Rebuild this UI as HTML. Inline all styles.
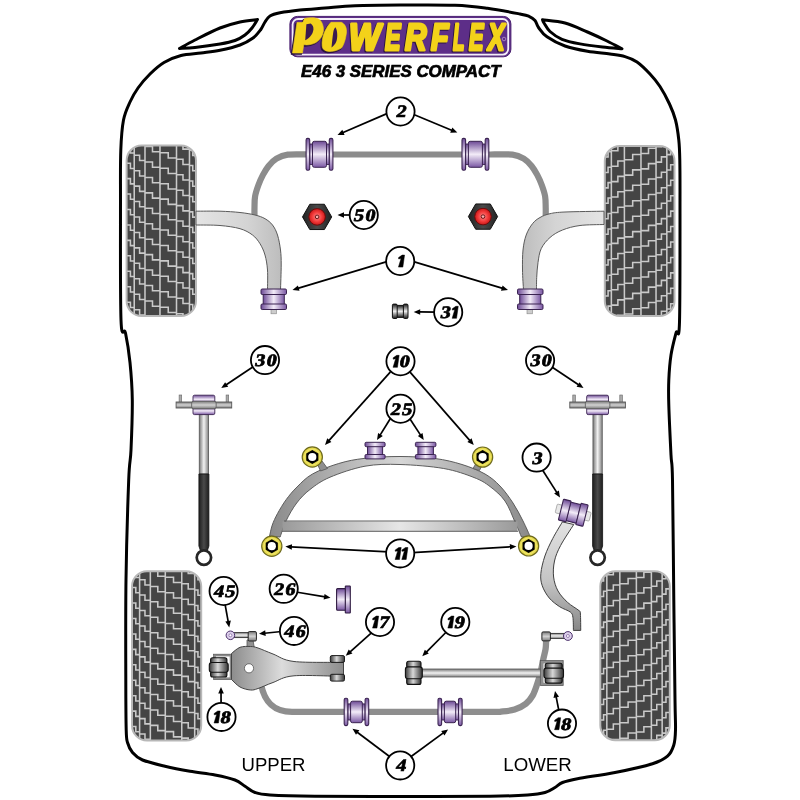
<!DOCTYPE html>
<html><head><meta charset="utf-8"><style>html,body{margin:0;padding:0;background:#fff;width:800px;height:800px;overflow:hidden}svg{display:block;will-change:transform}</style></head><body><svg width="800" height="800" viewBox="0 0 800 800">
<defs>
 <linearGradient id="pv" x1="0" y1="0" x2="0" y2="1">
  <stop offset="0" stop-color="#6d4a96"/><stop offset="0.5" stop-color="#f3ecf8"/><stop offset="1" stop-color="#7a57a3"/>
 </linearGradient>
 <linearGradient id="ph" x1="0" y1="0" x2="1" y2="0">
  <stop offset="0" stop-color="#6d4a96"/><stop offset="0.5" stop-color="#f3ecf8"/><stop offset="1" stop-color="#7a57a3"/>
 </linearGradient>
 <linearGradient id="pf" x1="0" y1="0" x2="1" y2="0">
  <stop offset="0" stop-color="#6a4890"/><stop offset="0.5" stop-color="#d6c6e6"/><stop offset="1" stop-color="#6a4890"/>
 </linearGradient>
 <linearGradient id="gv" x1="0" y1="0" x2="0" y2="1">
  <stop offset="0" stop-color="#777"/><stop offset="0.5" stop-color="#f2f2f2"/><stop offset="1" stop-color="#808080"/>
 </linearGradient>
 <linearGradient id="gh" x1="0" y1="0" x2="1" y2="0">
  <stop offset="0" stop-color="#777"/><stop offset="0.5" stop-color="#f2f2f2"/><stop offset="1" stop-color="#808080"/>
 </linearGradient>
 <linearGradient id="gv2" x1="0" y1="0" x2="0" y2="1">
  <stop offset="0" stop-color="#7a7a7a"/><stop offset="0.5" stop-color="#d2d2d2"/><stop offset="1" stop-color="#7a7a7a"/>
 </linearGradient>
 <linearGradient id="dk" x1="0" y1="0" x2="1" y2="0">
  <stop offset="0" stop-color="#1e1e1e"/><stop offset="0.5" stop-color="#4a4a4a"/><stop offset="1" stop-color="#1e1e1e"/>
 </linearGradient>
 <linearGradient id="gh" x1="0" y1="0" x2="1" y2="0">
  <stop offset="0" stop-color="#777"/><stop offset="0.5" stop-color="#f2f2f2"/><stop offset="1" stop-color="#808080"/>
 </linearGradient>
 <linearGradient id="mh" x1="0" y1="0" x2="1" y2="0">
  <stop offset="0" stop-color="#3a3a3a"/><stop offset="0.45" stop-color="#d8d8d8"/><stop offset="1" stop-color="#333"/>
 </linearGradient>
 <linearGradient id="mv" x1="0" y1="0" x2="0" y2="1">
  <stop offset="0" stop-color="#3a3a3a"/><stop offset="0.45" stop-color="#d8d8d8"/><stop offset="1" stop-color="#333"/>
 </linearGradient>
 <linearGradient id="mv2" x1="0" y1="0" x2="0" y2="1">
  <stop offset="0" stop-color="#1a1a1a"/><stop offset="0.5" stop-color="#f0f0f0"/><stop offset="1" stop-color="#1a1a1a"/>
 </linearGradient>
 <linearGradient id="armL" x1="0" y1="0" x2="1" y2="0">
  <stop offset="0" stop-color="#e4e4e4"/><stop offset="0.6" stop-color="#d4d4d4"/><stop offset="1" stop-color="#bdbdbd"/>
 </linearGradient>
 <linearGradient id="armR" x1="1" y1="0" x2="0" y2="0">
  <stop offset="0" stop-color="#e4e4e4"/><stop offset="0.6" stop-color="#d4d4d4"/><stop offset="1" stop-color="#bdbdbd"/>
 </linearGradient>
 <linearGradient id="arch" x1="0" y1="0" x2="1" y2="0">
  <stop offset="0" stop-color="#8a8a8a"/><stop offset="0.5" stop-color="#d6d6d6"/><stop offset="1" stop-color="#8a8a8a"/>
 </linearGradient>
 <linearGradient id="bar" x1="0" y1="0" x2="1" y2="0">
  <stop offset="0" stop-color="#9a9a9a"/><stop offset="0.5" stop-color="#e6e6e6"/><stop offset="1" stop-color="#9a9a9a"/>
 </linearGradient>
 <linearGradient id="arm17" x1="0" y1="0" x2="1" y2="0">
  <stop offset="0" stop-color="#8c8c8c"/><stop offset="0.45" stop-color="#dcdcdc"/><stop offset="1" stop-color="#8c8c8c"/>
 </linearGradient>
 <linearGradient id="trail" x1="0" y1="0" x2="0" y2="1">
  <stop offset="0" stop-color="#e2e2e2"/><stop offset="0.55" stop-color="#c4c4c4"/><stop offset="1" stop-color="#888"/>
 </linearGradient>
 <radialGradient id="red" cx="0.5" cy="0.5" r="0.5">
  <stop offset="0" stop-color="#ff8a8a"/><stop offset="0.6" stop-color="#f23a3a"/><stop offset="1" stop-color="#c81818"/>
 </radialGradient>
 <linearGradient id="hexg" x1="0" y1="0" x2="1" y2="0">
  <stop offset="0" stop-color="#222"/><stop offset="0.5" stop-color="#4a4a4a"/><stop offset="1" stop-color="#222"/>
 </linearGradient>
</defs>
<rect width="800" height="800" fill="#fff"/><path d="M400.00,5.00 C416.67,4.92 440.42,4.65 455.00,5.20 C469.58,5.75 476.67,6.83 487.50,8.30 C498.33,9.77 513.08,12.67 520.00,14.00 C526.92,15.33 526.50,15.22 529.00,16.30 C531.50,17.38 533.42,18.63 535.00,20.50 C536.58,22.37 536.50,24.78 538.50,27.50 C540.50,30.22 542.58,33.72 547.00,36.80 C551.42,39.88 558.25,43.60 565.00,46.00 C571.75,48.40 580.00,49.87 587.50,51.20 C595.00,52.53 603.75,53.10 610.00,54.00 C616.25,54.90 620.50,55.27 625.00,56.60 C629.50,57.93 632.83,59.10 637.00,62.00 C641.17,64.90 646.17,69.92 650.00,74.00 C653.83,78.08 656.75,81.50 660.00,86.50 C663.25,91.50 666.92,98.42 669.50,104.00 C672.08,109.58 673.95,114.00 675.50,120.00 C677.05,126.00 678.08,133.33 678.80,140.00 C679.52,146.67 679.60,150.00 679.80,160.00 C680.00,170.00 680.05,173.00 680.00,200.00 C679.95,227.00 680.17,299.83 679.50,322.00 C678.83,344.17 677.42,327.50 676.00,333.00 C674.58,338.50 672.20,347.17 671.00,355.00 C669.80,362.83 669.17,371.67 668.80,380.00 C668.43,388.33 668.43,392.50 668.80,405.00 C669.17,417.50 670.38,442.50 671.00,455.00 C671.62,467.50 672.03,455.83 672.50,480.00 C672.97,504.17 673.38,563.33 673.80,600.00 C674.22,636.67 674.72,678.33 675.00,700.00 C675.28,721.67 675.70,722.50 675.50,730.00 C675.30,737.50 675.13,740.63 673.80,745.00 C672.47,749.37 671.05,753.08 667.50,756.20 C663.95,759.32 661.25,760.98 652.50,763.70 C643.75,766.42 627.50,770.00 615.00,772.50 C602.50,775.00 586.25,777.03 577.50,778.70 C568.75,780.37 566.25,781.03 562.50,782.50 C558.75,783.97 557.92,785.83 555.00,787.50 C552.08,789.17 549.58,791.25 545.00,792.50 C540.42,793.75 536.67,794.37 527.50,795.00 C518.33,795.63 511.25,796.05 490.00,796.30 C468.75,796.55 429.17,796.50 400.00,796.50 C370.83,796.50 336.67,796.55 315.00,796.30 C293.33,796.05 280.00,795.63 270.00,795.00 C260.00,794.37 259.17,793.95 255.00,792.50 C250.83,791.05 248.33,788.38 245.00,786.30 C241.67,784.22 240.00,781.88 235.00,780.00 C230.00,778.12 222.50,776.47 215.00,775.00 C207.50,773.53 198.33,772.67 190.00,771.20 C181.67,769.73 172.92,768.07 165.00,766.20 C157.08,764.33 147.92,762.28 142.50,760.00 C137.08,757.72 135.00,755.42 132.50,752.50 C130.00,749.58 128.55,746.25 127.50,742.50 C126.45,738.75 126.48,740.42 126.20,730.00 C125.92,719.58 125.83,705.00 125.80,680.00 C125.77,655.00 125.52,613.33 126.00,580.00 C126.48,546.67 127.87,501.67 128.70,480.00 C129.53,458.33 130.40,463.33 131.00,450.00 C131.60,436.67 132.47,414.58 132.30,400.00 C132.13,385.42 131.13,373.67 130.00,362.50 C128.87,351.33 127.00,340.08 125.50,333.00 C124.00,325.92 121.83,342.17 121.00,320.00 C120.17,297.83 120.53,228.33 120.50,200.00 C120.47,171.67 120.30,163.33 120.80,150.00 C121.30,136.67 121.97,128.00 123.50,120.00 C125.03,112.00 127.58,107.33 130.00,102.00 C132.42,96.67 134.67,92.67 138.00,88.00 C141.33,83.33 145.67,78.25 150.00,74.00 C154.33,69.75 158.83,65.58 164.00,62.50 C169.17,59.42 174.83,57.08 181.00,55.50 C187.17,53.92 194.50,53.87 201.00,53.00 C207.50,52.13 213.50,51.63 220.00,50.30 C226.50,48.97 234.50,47.05 240.00,45.00 C245.50,42.95 249.58,40.50 253.00,38.00 C256.42,35.50 258.50,32.67 260.50,30.00 C262.50,27.33 263.42,24.33 265.00,22.00 C266.58,19.67 267.50,17.53 270.00,16.00 C272.50,14.47 275.00,13.80 280.00,12.80 C285.00,11.80 292.50,10.80 300.00,10.00 C307.50,9.20 315.83,8.72 325.00,8.00 C334.17,7.28 342.50,6.20 355.00,5.70 C367.50,5.20 383.33,5.08 400.00,5.00Z" fill="none" stroke="#000" stroke-width="3"/>
<path d="M179.40,48.50 C182.00,47.08 188.23,43.42 195.00,40.00 C201.77,36.58 212.50,31.00 220.00,28.00 C227.50,25.00 233.75,23.42 240.00,22.00 C246.25,20.58 254.58,19.92 257.50,19.50 C256.58,20.92 254.08,25.42 252.00,28.00 C249.92,30.58 247.83,32.92 245.00,35.00 C242.17,37.08 239.17,39.00 235.00,40.50 C230.83,42.00 226.67,42.83 220.00,44.00 C213.33,45.17 201.77,46.75 195.00,47.50 C188.23,48.25 182.00,48.33 179.40,48.50 Z" fill="none" stroke="#000" stroke-width="3" stroke-linejoin="round"/>
<path d="M542.50,19.70 C546.25,20.25 557.50,20.95 565.00,23.00 C572.50,25.05 580.50,29.00 587.50,32.00 C594.50,35.00 601.25,38.20 607.00,41.00 C612.75,43.80 619.50,47.50 622.00,48.80 C618.75,48.52 609.50,47.92 602.50,47.10 C595.50,46.28 586.75,45.20 580.00,43.90 C573.25,42.60 567.00,41.37 562.00,39.30 C557.00,37.23 553.00,34.22 550.00,31.50 C547.00,28.78 545.25,24.97 544.00,23.00 C542.75,21.03 542.75,20.25 542.50,19.70 Z" fill="none" stroke="#000" stroke-width="3" stroke-linejoin="round"/>
<clipPath id="tc126_145"><rect x="126.6" y="145.6" width="69.4" height="170.4" rx="15" ry="15"/></clipPath><rect x="126.6" y="145.6" width="69.4" height="170.4" rx="15" ry="15" fill="#454545"/><g clip-path="url(#tc126_145)"><path d="M126.60,116.87 H130.42 V122.12 H134.23 M126.60,132.31 H130.42 V137.56 H134.23 M126.60,147.75 H130.42 V153.00 H134.23 M126.60,163.19 H130.42 V168.44 H134.23 M126.60,178.63 H130.42 V183.88 H134.23 M126.60,194.07 H130.42 V199.32 H134.23 M126.60,209.51 H130.42 V214.76 H134.23 M126.60,224.95 H130.42 V230.20 H134.23 M126.60,240.39 H130.42 V245.64 H134.23 M126.60,255.83 H130.42 V261.08 H134.23 M126.60,271.27 H130.42 V276.52 H134.23 M126.60,286.71 H130.42 V291.96 H134.23 M126.60,302.15 H130.42 V307.40 H134.23 M126.60,317.59 H130.42 V322.84 H134.23 M134.23,124.37 H139.61 V129.62 H144.99 M134.23,139.81 H139.61 V145.06 H144.99 M134.23,155.25 H139.61 V160.50 H144.99 M134.23,170.69 H139.61 V175.94 H144.99 M134.23,186.13 H139.61 V191.38 H144.99 M134.23,201.57 H139.61 V206.82 H144.99 M134.23,217.01 H139.61 V222.26 H144.99 M134.23,232.45 H139.61 V237.70 H144.99 M134.23,247.89 H139.61 V253.14 H144.99 M134.23,263.33 H139.61 V268.58 H144.99 M134.23,278.77 H139.61 V284.02 H144.99 M134.23,294.21 H139.61 V299.46 H144.99 M134.23,309.65 H139.61 V314.90 H144.99 M134.23,325.09 H139.61 V330.34 H144.99 M144.99,115.68 H152.49 V120.93 H159.98 M144.99,131.12 H152.49 V136.37 H159.98 M144.99,146.56 H152.49 V151.81 H159.98 M144.99,162.00 H152.49 V167.25 H159.98 M144.99,177.44 H152.49 V182.69 H159.98 M144.99,192.88 H152.49 V198.13 H159.98 M144.99,208.32 H152.49 V213.57 H159.98 M144.99,223.76 H152.49 V229.01 H159.98 M144.99,239.20 H152.49 V244.45 H159.98 M144.99,254.64 H152.49 V259.89 H159.98 M144.99,270.08 H152.49 V275.33 H159.98 M144.99,285.52 H152.49 V290.77 H159.98 M144.99,300.96 H152.49 V306.21 H159.98 M144.99,316.40 H152.49 V321.65 H159.98 M159.98,121.93 H168.24 V127.18 H176.50 M159.98,137.37 H168.24 V142.62 H176.50 M159.98,152.81 H168.24 V158.06 H176.50 M159.98,168.25 H168.24 V173.50 H176.50 M159.98,183.69 H168.24 V188.94 H176.50 M159.98,199.13 H168.24 V204.38 H176.50 M159.98,214.57 H168.24 V219.82 H176.50 M159.98,230.01 H168.24 V235.26 H176.50 M159.98,245.45 H168.24 V250.70 H176.50 M159.98,260.89 H168.24 V266.14 H176.50 M159.98,276.33 H168.24 V281.58 H176.50 M159.98,291.77 H168.24 V297.02 H176.50 M159.98,307.21 H168.24 V312.46 H176.50 M159.98,322.65 H168.24 V327.90 H176.50 M176.50,128.43 H182.99 V133.68 H189.48 M176.50,143.87 H182.99 V149.12 H189.48 M176.50,159.31 H182.99 V164.56 H189.48 M176.50,174.75 H182.99 V180.00 H189.48 M176.50,190.19 H182.99 V195.44 H189.48 M176.50,205.63 H182.99 V210.88 H189.48 M176.50,221.07 H182.99 V226.32 H189.48 M176.50,236.51 H182.99 V241.76 H189.48 M176.50,251.95 H182.99 V257.20 H189.48 M176.50,267.39 H182.99 V272.64 H189.48 M176.50,282.83 H182.99 V288.08 H189.48 M176.50,298.27 H182.99 V303.52 H189.48 M176.50,313.71 H182.99 V318.96 H189.48 M176.50,329.15 H182.99 V334.40 H189.48 M189.48,119.24 H192.74 V124.49 H196.00 M189.48,134.68 H192.74 V139.93 H196.00 M189.48,150.12 H192.74 V155.37 H196.00 M189.48,165.56 H192.74 V170.81 H196.00 M189.48,181.00 H192.74 V186.25 H196.00 M189.48,196.44 H192.74 V201.69 H196.00 M189.48,211.88 H192.74 V217.13 H196.00 M189.48,227.32 H192.74 V232.57 H196.00 M189.48,242.76 H192.74 V248.01 H196.00 M189.48,258.20 H192.74 V263.45 H196.00 M189.48,273.64 H192.74 V278.89 H196.00 M189.48,289.08 H192.74 V294.33 H196.00 M189.48,304.52 H192.74 V309.77 H196.00 M189.48,319.96 H192.74 V325.21 H196.00 M134.23,145.60 V316.00 M144.99,145.60 V316.00 M159.98,145.60 V316.00 M176.50,145.60 V316.00 M189.48,145.60 V316.00" fill="none" stroke="#cacaca" stroke-width="1.55"/></g><rect x="126.6" y="145.6" width="69.4" height="170.4" rx="15" ry="15" fill="none" stroke="#b8b8b8" stroke-width="2"/>
<clipPath id="tc604_146"><rect x="604.8" y="146.0" width="69.7" height="170.0" rx="15" ry="15"/></clipPath><rect x="604.8" y="146.0" width="69.7" height="170.0" rx="15" ry="15" fill="#454545"/><g clip-path="url(#tc604_146)"><path transform="translate(1279.30,0) scale(-1,1)" d="M604.80,118.47 H608.63 V123.72 H612.47 M604.80,133.91 H608.63 V139.16 H612.47 M604.80,149.35 H608.63 V154.60 H612.47 M604.80,164.79 H608.63 V170.04 H612.47 M604.80,180.23 H608.63 V185.48 H612.47 M604.80,195.67 H608.63 V200.92 H612.47 M604.80,211.11 H608.63 V216.36 H612.47 M604.80,226.55 H608.63 V231.80 H612.47 M604.80,241.99 H608.63 V247.24 H612.47 M604.80,257.43 H608.63 V262.68 H612.47 M604.80,272.87 H608.63 V278.12 H612.47 M604.80,288.31 H608.63 V293.56 H612.47 M604.80,303.75 H608.63 V309.00 H612.47 M604.80,319.19 H608.63 V324.44 H612.47 M612.47,125.97 H617.87 V131.22 H623.27 M612.47,141.41 H617.87 V146.66 H623.27 M612.47,156.85 H617.87 V162.10 H623.27 M612.47,172.29 H617.87 V177.54 H623.27 M612.47,187.73 H617.87 V192.98 H623.27 M612.47,203.17 H617.87 V208.42 H623.27 M612.47,218.61 H617.87 V223.86 H623.27 M612.47,234.05 H617.87 V239.30 H623.27 M612.47,249.49 H617.87 V254.74 H623.27 M612.47,264.93 H617.87 V270.18 H623.27 M612.47,280.37 H617.87 V285.62 H623.27 M612.47,295.81 H617.87 V301.06 H623.27 M612.47,311.25 H617.87 V316.50 H623.27 M612.47,326.69 H617.87 V331.94 H623.27 M623.27,117.28 H630.80 V122.53 H638.33 M623.27,132.72 H630.80 V137.97 H638.33 M623.27,148.16 H630.80 V153.41 H638.33 M623.27,163.60 H630.80 V168.85 H638.33 M623.27,179.04 H630.80 V184.29 H638.33 M623.27,194.48 H630.80 V199.73 H638.33 M623.27,209.92 H630.80 V215.17 H638.33 M623.27,225.36 H630.80 V230.61 H638.33 M623.27,240.80 H630.80 V246.05 H638.33 M623.27,256.24 H630.80 V261.49 H638.33 M623.27,271.68 H630.80 V276.93 H638.33 M623.27,287.12 H630.80 V292.37 H638.33 M623.27,302.56 H630.80 V307.81 H638.33 M623.27,318.00 H630.80 V323.25 H638.33 M638.33,123.53 H646.62 V128.78 H654.91 M638.33,138.97 H646.62 V144.22 H654.91 M638.33,154.41 H646.62 V159.66 H654.91 M638.33,169.85 H646.62 V175.10 H654.91 M638.33,185.29 H646.62 V190.54 H654.91 M638.33,200.73 H646.62 V205.98 H654.91 M638.33,216.17 H646.62 V221.42 H654.91 M638.33,231.61 H646.62 V236.86 H654.91 M638.33,247.05 H646.62 V252.30 H654.91 M638.33,262.49 H646.62 V267.74 H654.91 M638.33,277.93 H646.62 V283.18 H654.91 M638.33,293.37 H646.62 V298.62 H654.91 M638.33,308.81 H646.62 V314.06 H654.91 M638.33,324.25 H646.62 V329.50 H654.91 M654.91,130.03 H661.43 V135.28 H667.95 M654.91,145.47 H661.43 V150.72 H667.95 M654.91,160.91 H661.43 V166.16 H667.95 M654.91,176.35 H661.43 V181.60 H667.95 M654.91,191.79 H661.43 V197.04 H667.95 M654.91,207.23 H661.43 V212.48 H667.95 M654.91,222.67 H661.43 V227.92 H667.95 M654.91,238.11 H661.43 V243.36 H667.95 M654.91,253.55 H661.43 V258.80 H667.95 M654.91,268.99 H661.43 V274.24 H667.95 M654.91,284.43 H661.43 V289.68 H667.95 M654.91,299.87 H661.43 V305.12 H667.95 M654.91,315.31 H661.43 V320.56 H667.95 M654.91,330.75 H661.43 V336.00 H667.95 M667.95,120.84 H671.22 V126.09 H674.50 M667.95,136.28 H671.22 V141.53 H674.50 M667.95,151.72 H671.22 V156.97 H674.50 M667.95,167.16 H671.22 V172.41 H674.50 M667.95,182.60 H671.22 V187.85 H674.50 M667.95,198.04 H671.22 V203.29 H674.50 M667.95,213.48 H671.22 V218.73 H674.50 M667.95,228.92 H671.22 V234.17 H674.50 M667.95,244.36 H671.22 V249.61 H674.50 M667.95,259.80 H671.22 V265.05 H674.50 M667.95,275.24 H671.22 V280.49 H674.50 M667.95,290.68 H671.22 V295.93 H674.50 M667.95,306.12 H671.22 V311.37 H674.50 M667.95,321.56 H671.22 V326.81 H674.50 M612.47,146.00 V316.00 M623.27,146.00 V316.00 M638.33,146.00 V316.00 M654.91,146.00 V316.00 M667.95,146.00 V316.00" fill="none" stroke="#cacaca" stroke-width="1.55"/></g><rect x="604.8" y="146.0" width="69.7" height="170.0" rx="15" ry="15" fill="none" stroke="#b8b8b8" stroke-width="2"/>
<clipPath id="tc132_571"><rect x="132.0" y="571.3" width="69.2" height="169.2" rx="15" ry="15"/></clipPath><rect x="132.0" y="571.3" width="69.2" height="169.2" rx="15" ry="15" fill="#454545"/><g clip-path="url(#tc132_571)"><path d="M132.00,541.27 H135.81 V546.52 H139.61 M132.00,556.71 H135.81 V561.96 H139.61 M132.00,572.15 H135.81 V577.40 H139.61 M132.00,587.59 H135.81 V592.84 H139.61 M132.00,603.03 H135.81 V608.28 H139.61 M132.00,618.47 H135.81 V623.72 H139.61 M132.00,633.91 H135.81 V639.16 H139.61 M132.00,649.35 H135.81 V654.60 H139.61 M132.00,664.79 H135.81 V670.04 H139.61 M132.00,680.23 H135.81 V685.48 H139.61 M132.00,695.67 H135.81 V700.92 H139.61 M132.00,711.11 H135.81 V716.36 H139.61 M132.00,726.55 H135.81 V731.80 H139.61 M132.00,741.99 H135.81 V747.24 H139.61 M139.61,548.77 H144.97 V554.02 H150.34 M139.61,564.21 H144.97 V569.46 H150.34 M139.61,579.65 H144.97 V584.90 H150.34 M139.61,595.09 H144.97 V600.34 H150.34 M139.61,610.53 H144.97 V615.78 H150.34 M139.61,625.97 H144.97 V631.22 H150.34 M139.61,641.41 H144.97 V646.66 H150.34 M139.61,656.85 H144.97 V662.10 H150.34 M139.61,672.29 H144.97 V677.54 H150.34 M139.61,687.73 H144.97 V692.98 H150.34 M139.61,703.17 H144.97 V708.42 H150.34 M139.61,718.61 H144.97 V723.86 H150.34 M139.61,734.05 H144.97 V739.30 H150.34 M139.61,749.49 H144.97 V754.74 H150.34 M150.34,555.52 H157.81 V560.77 H165.29 M150.34,570.96 H157.81 V576.21 H165.29 M150.34,586.40 H157.81 V591.65 H165.29 M150.34,601.84 H157.81 V607.09 H165.29 M150.34,617.28 H157.81 V622.53 H165.29 M150.34,632.72 H157.81 V637.97 H165.29 M150.34,648.16 H157.81 V653.41 H165.29 M150.34,663.60 H157.81 V668.85 H165.29 M150.34,679.04 H157.81 V684.29 H165.29 M150.34,694.48 H157.81 V699.73 H165.29 M150.34,709.92 H157.81 V715.17 H165.29 M150.34,725.36 H157.81 V730.61 H165.29 M150.34,740.80 H157.81 V746.05 H165.29 M165.29,546.33 H173.52 V551.58 H181.75 M165.29,561.77 H173.52 V567.02 H181.75 M165.29,577.21 H173.52 V582.46 H181.75 M165.29,592.65 H173.52 V597.90 H181.75 M165.29,608.09 H173.52 V613.34 H181.75 M165.29,623.53 H173.52 V628.78 H181.75 M165.29,638.97 H173.52 V644.22 H181.75 M165.29,654.41 H173.52 V659.66 H181.75 M165.29,669.85 H173.52 V675.10 H181.75 M165.29,685.29 H173.52 V690.54 H181.75 M165.29,700.73 H173.52 V705.98 H181.75 M165.29,716.17 H173.52 V721.42 H181.75 M165.29,731.61 H173.52 V736.86 H181.75 M165.29,747.05 H173.52 V752.30 H181.75 M181.75,552.83 H188.22 V558.08 H194.70 M181.75,568.27 H188.22 V573.52 H194.70 M181.75,583.71 H188.22 V588.96 H194.70 M181.75,599.15 H188.22 V604.40 H194.70 M181.75,614.59 H188.22 V619.84 H194.70 M181.75,630.03 H188.22 V635.28 H194.70 M181.75,645.47 H188.22 V650.72 H194.70 M181.75,660.91 H188.22 V666.16 H194.70 M181.75,676.35 H188.22 V681.60 H194.70 M181.75,691.79 H188.22 V697.04 H194.70 M181.75,707.23 H188.22 V712.48 H194.70 M181.75,722.67 H188.22 V727.92 H194.70 M181.75,738.11 H188.22 V743.36 H194.70 M181.75,753.55 H188.22 V758.80 H194.70 M194.70,543.64 H197.95 V548.89 H201.20 M194.70,559.08 H197.95 V564.33 H201.20 M194.70,574.52 H197.95 V579.77 H201.20 M194.70,589.96 H197.95 V595.21 H201.20 M194.70,605.40 H197.95 V610.65 H201.20 M194.70,620.84 H197.95 V626.09 H201.20 M194.70,636.28 H197.95 V641.53 H201.20 M194.70,651.72 H197.95 V656.97 H201.20 M194.70,667.16 H197.95 V672.41 H201.20 M194.70,682.60 H197.95 V687.85 H201.20 M194.70,698.04 H197.95 V703.29 H201.20 M194.70,713.48 H197.95 V718.73 H201.20 M194.70,728.92 H197.95 V734.17 H201.20 M194.70,744.36 H197.95 V749.61 H201.20 M139.61,571.30 V740.50 M150.34,571.30 V740.50 M165.29,571.30 V740.50 M181.75,571.30 V740.50 M194.70,571.30 V740.50" fill="none" stroke="#cacaca" stroke-width="1.55"/></g><rect x="132.0" y="571.3" width="69.2" height="169.2" rx="15" ry="15" fill="none" stroke="#b8b8b8" stroke-width="2"/>
<clipPath id="tc600_571"><rect x="600.3" y="571.3" width="69.5" height="168.9" rx="15" ry="15"/></clipPath><rect x="600.3" y="571.3" width="69.5" height="168.9" rx="15" ry="15" fill="#454545"/><g clip-path="url(#tc600_571)"><path transform="translate(1270.10,0) scale(-1,1)" d="M600.30,542.57 H604.12 V547.82 H607.94 M600.30,558.01 H604.12 V563.26 H607.94 M600.30,573.45 H604.12 V578.70 H607.94 M600.30,588.89 H604.12 V594.14 H607.94 M600.30,604.33 H604.12 V609.58 H607.94 M600.30,619.77 H604.12 V625.02 H607.94 M600.30,635.21 H604.12 V640.46 H607.94 M600.30,650.65 H604.12 V655.90 H607.94 M600.30,666.09 H604.12 V671.34 H607.94 M600.30,681.53 H604.12 V686.78 H607.94 M600.30,696.97 H604.12 V702.22 H607.94 M600.30,712.41 H604.12 V717.66 H607.94 M600.30,727.85 H604.12 V733.10 H607.94 M600.30,743.29 H604.12 V748.54 H607.94 M607.94,550.07 H613.33 V555.32 H618.72 M607.94,565.51 H613.33 V570.76 H618.72 M607.94,580.95 H613.33 V586.20 H618.72 M607.94,596.39 H613.33 V601.64 H618.72 M607.94,611.83 H613.33 V617.08 H618.72 M607.94,627.27 H613.33 V632.52 H618.72 M607.94,642.71 H613.33 V647.96 H618.72 M607.94,658.15 H613.33 V663.40 H618.72 M607.94,673.59 H613.33 V678.84 H618.72 M607.94,689.03 H613.33 V694.28 H618.72 M607.94,704.47 H613.33 V709.72 H618.72 M607.94,719.91 H613.33 V725.16 H618.72 M607.94,735.35 H613.33 V740.60 H618.72 M607.94,750.79 H613.33 V756.04 H618.72 M618.72,541.38 H626.22 V546.63 H633.73 M618.72,556.82 H626.22 V562.07 H633.73 M618.72,572.26 H626.22 V577.51 H633.73 M618.72,587.70 H626.22 V592.95 H633.73 M618.72,603.14 H626.22 V608.39 H633.73 M618.72,618.58 H626.22 V623.83 H633.73 M618.72,634.02 H626.22 V639.27 H633.73 M618.72,649.46 H626.22 V654.71 H633.73 M618.72,664.90 H626.22 V670.15 H633.73 M618.72,680.34 H626.22 V685.59 H633.73 M618.72,695.78 H626.22 V701.03 H633.73 M618.72,711.22 H626.22 V716.47 H633.73 M618.72,726.66 H626.22 V731.91 H633.73 M618.72,742.10 H626.22 V747.35 H633.73 M633.73,547.63 H642.00 V552.88 H650.27 M633.73,563.07 H642.00 V568.32 H650.27 M633.73,578.51 H642.00 V583.76 H650.27 M633.73,593.95 H642.00 V599.20 H650.27 M633.73,609.39 H642.00 V614.64 H650.27 M633.73,624.83 H642.00 V630.08 H650.27 M633.73,640.27 H642.00 V645.52 H650.27 M633.73,655.71 H642.00 V660.96 H650.27 M633.73,671.15 H642.00 V676.40 H650.27 M633.73,686.59 H642.00 V691.84 H650.27 M633.73,702.03 H642.00 V707.28 H650.27 M633.73,717.47 H642.00 V722.72 H650.27 M633.73,732.91 H642.00 V738.16 H650.27 M633.73,748.35 H642.00 V753.60 H650.27 M650.27,554.13 H656.77 V559.38 H663.27 M650.27,569.57 H656.77 V574.82 H663.27 M650.27,585.01 H656.77 V590.26 H663.27 M650.27,600.45 H656.77 V605.70 H663.27 M650.27,615.89 H656.77 V621.14 H663.27 M650.27,631.33 H656.77 V636.58 H663.27 M650.27,646.77 H656.77 V652.02 H663.27 M650.27,662.21 H656.77 V667.46 H663.27 M650.27,677.65 H656.77 V682.90 H663.27 M650.27,693.09 H656.77 V698.34 H663.27 M650.27,708.53 H656.77 V713.78 H663.27 M650.27,723.97 H656.77 V729.22 H663.27 M650.27,739.41 H656.77 V744.66 H663.27 M650.27,754.85 H656.77 V760.10 H663.27 M663.27,544.94 H666.53 V550.19 H669.80 M663.27,560.38 H666.53 V565.63 H669.80 M663.27,575.82 H666.53 V581.07 H669.80 M663.27,591.26 H666.53 V596.51 H669.80 M663.27,606.70 H666.53 V611.95 H669.80 M663.27,622.14 H666.53 V627.39 H669.80 M663.27,637.58 H666.53 V642.83 H669.80 M663.27,653.02 H666.53 V658.27 H669.80 M663.27,668.46 H666.53 V673.71 H669.80 M663.27,683.90 H666.53 V689.15 H669.80 M663.27,699.34 H666.53 V704.59 H669.80 M663.27,714.78 H666.53 V720.03 H669.80 M663.27,730.22 H666.53 V735.47 H669.80 M663.27,745.66 H666.53 V750.91 H669.80 M607.94,571.30 V740.20 M618.72,571.30 V740.20 M633.73,571.30 V740.20 M650.27,571.30 V740.20 M663.27,571.30 V740.20" fill="none" stroke="#cacaca" stroke-width="1.55"/></g><rect x="600.3" y="571.3" width="69.5" height="168.9" rx="15" ry="15" fill="none" stroke="#b8b8b8" stroke-width="2"/>
<path d="M254.50,216.00 C254.50,214.58 254.40,210.79 254.50,207.50 C254.60,204.21 254.44,200.00 255.10,196.25 C255.76,192.50 257.14,188.56 258.45,185.00 C259.76,181.44 261.26,178.08 262.95,174.90 C264.64,171.72 266.35,168.62 268.60,165.90 C270.85,163.18 273.27,160.48 276.45,158.60 C279.63,156.72 282.08,155.28 287.70,154.60 C293.33,153.92 306.45,154.52 310.20,154.50 L490.00,154.50 C493.75,154.52 506.88,153.92 512.50,154.60 C518.12,155.28 520.57,156.72 523.75,158.60 C526.93,160.48 529.35,163.18 531.60,165.90 C533.85,168.62 535.56,171.72 537.25,174.90 C538.94,178.08 540.44,181.44 541.75,185.00 C543.06,188.56 544.44,192.50 545.10,196.25 C545.76,200.00 545.60,204.21 545.70,207.50 C545.80,210.79 545.70,214.58 545.70,216.00" fill="none" stroke="#8c8c8c" stroke-width="6.2"/>
<path d="M196.00,211.20 C200.00,211.20 212.67,210.98 220.00,211.20 C227.33,211.42 234.17,211.87 240.00,212.50 C245.83,213.13 250.83,213.97 255.00,215.00 C259.17,216.03 262.08,217.03 265.00,218.70 C267.92,220.37 270.42,222.28 272.50,225.00 C274.58,227.72 276.17,230.83 277.50,235.00 C278.83,239.17 279.88,245.00 280.50,250.00 C281.12,255.00 281.20,258.33 281.20,265.00 C281.20,271.67 280.62,285.83 280.50,290.00 L267.50,290.00 C267.50,286.67 267.92,275.83 267.50,270.00 C267.08,264.17 266.25,259.38 265.00,255.00 C263.75,250.62 262.08,247.03 260.00,243.70 C257.92,240.37 255.83,237.50 252.50,235.00 C249.17,232.50 245.42,230.28 240.00,228.70 C234.58,227.12 227.33,226.12 220.00,225.50 C212.67,224.88 200.00,225.08 196.00,225.00 Z" fill="url(#armL)" stroke="#5a5a5a" stroke-width="1"/>
<path d="M604.00,211.20 C597.50,211.33 574.00,211.58 565.00,212.00 C556.00,212.42 554.17,212.78 550.00,213.70 C545.83,214.62 542.92,215.83 540.00,217.50 C537.08,219.17 534.80,220.78 532.50,223.70 C530.20,226.62 527.78,230.62 526.20,235.00 C524.62,239.38 523.62,244.17 523.00,250.00 C522.38,255.83 522.42,263.33 522.50,270.00 C522.58,276.67 523.33,286.67 523.50,290.00 L536.50,290.00 C536.53,287.92 536.45,282.08 536.70,277.50 C536.95,272.92 537.25,267.30 538.00,262.50 C538.75,257.70 539.20,252.87 541.20,248.70 C543.20,244.53 546.45,240.62 550.00,237.50 C553.55,234.38 557.50,232.00 562.50,230.00 C567.50,228.00 573.08,226.42 580.00,225.50 C586.92,224.58 600.00,224.67 604.00,224.50 Z" fill="url(#armR)" stroke="#5a5a5a" stroke-width="1"/>
<rect x="271" y="309" width="5.5" height="4.8" fill="#ccc" stroke="#888" stroke-width="0.6"/>
<rect x="527" y="309" width="5.5" height="4.8" fill="#ccc" stroke="#888" stroke-width="0.6"/>
<rect x="263.20" y="294.00" width="21.10" height="10.50" fill="url(#ph)" stroke="#3a2350" stroke-width="1"/><rect x="261.00" y="289.00" width="25.50" height="5.50" rx="1.2" fill="url(#ph)" stroke="#3a2350" stroke-width="1"/><rect x="261.00" y="304.00" width="25.50" height="5.50" rx="1.2" fill="url(#ph)" stroke="#3a2350" stroke-width="1"/>
<rect x="519.70" y="294.00" width="21.10" height="10.50" fill="url(#ph)" stroke="#3a2350" stroke-width="1"/><rect x="517.50" y="289.00" width="25.50" height="5.50" rx="1.2" fill="url(#ph)" stroke="#3a2350" stroke-width="1"/><rect x="517.50" y="304.00" width="25.50" height="5.50" rx="1.2" fill="url(#ph)" stroke="#3a2350" stroke-width="1"/>
<rect x="309.70" y="144.00" width="19.60" height="20.60" fill="url(#pv)" stroke="#3a2350" stroke-width="0.9"/><rect x="312.50" y="141.30" width="14.00" height="26.00" rx="1.8" fill="url(#pv)" stroke="#3a2350" stroke-width="1"/><rect x="306.10" y="138.40" width="3.60" height="31.80" rx="1.5" fill="url(#pv)" stroke="#3a2350" stroke-width="1.1"/><rect x="329.30" y="138.40" width="3.60" height="31.80" rx="1.5" fill="url(#pv)" stroke="#3a2350" stroke-width="1.1"/>
<rect x="465.60" y="144.00" width="19.60" height="20.60" fill="url(#pv)" stroke="#3a2350" stroke-width="0.9"/><rect x="468.40" y="141.30" width="14.00" height="26.00" rx="1.8" fill="url(#pv)" stroke="#3a2350" stroke-width="1"/><rect x="462.00" y="138.40" width="3.60" height="31.80" rx="1.5" fill="url(#pv)" stroke="#3a2350" stroke-width="1.1"/><rect x="485.20" y="138.40" width="3.60" height="31.80" rx="1.5" fill="url(#pv)" stroke="#3a2350" stroke-width="1.1"/>
<polygon points="331.70,216.90 324.40,229.54 309.80,229.54 302.50,216.90 309.80,204.26 324.40,204.26" fill="url(#hexg)" stroke="#111" stroke-width="1"/><circle cx="317.10" cy="216.90" r="8.3" fill="url(#red)" stroke="#6a0a0a" stroke-width="1"/><circle cx="317.10" cy="216.90" r="1.8" fill="#f7b0b0" stroke="#5a0a0a" stroke-width="0.9"/>
<polygon points="497.60,216.60 490.30,229.24 475.70,229.24 468.40,216.60 475.70,203.96 490.30,203.96" fill="url(#hexg)" stroke="#111" stroke-width="1"/><circle cx="483.00" cy="216.60" r="8.3" fill="url(#red)" stroke="#6a0a0a" stroke-width="1"/><circle cx="483.00" cy="216.60" r="1.8" fill="#f7b0b0" stroke="#5a0a0a" stroke-width="0.9"/>
<rect x="396" y="305.4" width="8.5" height="12" fill="url(#mv2)" stroke="#111" stroke-width="1"/>
<rect x="392.4" y="304.1" width="4.8" height="14.4" rx="1.2" fill="url(#mv2)" stroke="#111" stroke-width="1"/>
<rect x="403.4" y="304.1" width="4.6" height="14.4" rx="1.2" fill="url(#mv2)" stroke="#111" stroke-width="1"/>
<rect x="199.25" y="414" width="9.3" height="60" fill="url(#gh)" stroke="#555" stroke-width="0.8"/><path d="M198.90,474 H208.90 V546 L206.90,552 H200.90 L198.90,546 Z" fill="url(#dk)" stroke="#111" stroke-width="0.8"/><circle cx="203.90" cy="557.6" r="7.2" fill="#fff" stroke="#262626" stroke-width="2.7"/><rect x="179.10" y="395" width="2.6" height="8" fill="#aaa" stroke="#666" stroke-width="0.6"/><rect x="226.10" y="395" width="2.6" height="8" fill="#aaa" stroke="#666" stroke-width="0.6"/><rect x="193.00" y="395.2" width="21.8" height="8.3" rx="1.5" fill="url(#pv)" stroke="#3a2350" stroke-width="0.9"/><rect x="193.00" y="407" width="21.8" height="7.6" rx="1.5" fill="url(#pv)" stroke="#3a2350" stroke-width="0.9"/><rect x="176.10" y="402" width="55.6" height="6" fill="url(#gv2)" stroke="#555" stroke-width="0.9"/><rect x="191.65" y="401.2" width="24.5" height="7.6" rx="2" fill="url(#gv2)" stroke="#555" stroke-width="0.8"/>
<rect x="592.95" y="414" width="9.3" height="60" fill="url(#gh)" stroke="#555" stroke-width="0.8"/><path d="M592.60,474 H602.60 V546 L600.60,552 H594.60 L592.60,546 Z" fill="url(#dk)" stroke="#111" stroke-width="0.8"/><circle cx="597.60" cy="557.6" r="7.2" fill="#fff" stroke="#262626" stroke-width="2.7"/><rect x="572.80" y="395" width="2.6" height="8" fill="#aaa" stroke="#666" stroke-width="0.6"/><rect x="619.80" y="395" width="2.6" height="8" fill="#aaa" stroke="#666" stroke-width="0.6"/><rect x="586.70" y="395.2" width="21.8" height="8.3" rx="1.5" fill="url(#pv)" stroke="#3a2350" stroke-width="0.9"/><rect x="586.70" y="407" width="21.8" height="7.6" rx="1.5" fill="url(#pv)" stroke="#3a2350" stroke-width="0.9"/><rect x="569.80" y="402" width="55.6" height="6" fill="url(#gv2)" stroke="#555" stroke-width="0.9"/><rect x="585.35" y="401.2" width="24.5" height="7.6" rx="2" fill="url(#gv2)" stroke="#555" stroke-width="0.8"/>
<path d="M269.60,536.00 C270.05,534.17 270.98,528.73 272.30,525.00 C273.62,521.27 275.18,517.83 277.50,513.60 C279.82,509.37 282.95,504.03 286.20,499.60 C289.45,495.17 292.62,491.27 297.00,487.00 C301.38,482.73 305.54,477.92 312.50,474.00 C319.46,470.08 330.00,466.12 338.75,463.50 C347.50,460.88 354.79,459.47 365.00,458.30 C375.21,457.13 388.33,456.47 400.00,456.50 C411.67,456.53 424.67,457.17 435.00,458.50 C445.33,459.83 453.67,461.92 462.00,464.50 C470.33,467.08 478.67,470.42 485.00,474.00 C491.33,477.58 495.33,481.17 500.00,486.00 C504.67,490.83 509.17,497.17 513.00,503.00 C516.83,508.83 520.10,515.33 523.00,521.00 C525.90,526.67 529.17,534.33 530.40,537.00 L521.50,537.00 C520.42,534.50 517.75,528.00 515.00,522.00 C512.25,516.00 509.17,506.92 505.00,501.00 C500.83,495.08 495.17,490.42 490.00,486.50 C484.83,482.58 481.71,480.50 474.00,477.50 C466.29,474.50 456.08,470.67 443.75,468.50 C431.42,466.33 413.12,464.88 400.00,464.50 C386.88,464.12 376.67,464.08 365.00,466.20 C353.33,468.32 339.17,473.32 330.00,477.20 C320.83,481.08 315.55,485.20 310.00,489.50 C304.45,493.80 300.67,497.82 296.70,503.00 C292.73,508.18 288.97,514.93 286.20,520.60 C283.43,526.27 281.12,534.27 280.10,537.00 Z" fill="url(#arch)" stroke="#5c5c5c" stroke-width="1"/>
<rect x="282.5" y="521.4" width="235" height="9.6" fill="url(#bar)"/>
<path d="M284,521 H516 M282,531.3 H518" stroke="#5c5c5c" stroke-width="1"/>
<path d="M317,463 L322,461 L327.5,468.5 L320.5,471 Z" fill="#8f8f8f" stroke="#5c5c5c" stroke-width="0.9"/>
<path d="M477.5,461 L483,463 L479.5,470.5 L473,468.5 Z" fill="#8f8f8f" stroke="#5c5c5c" stroke-width="0.9"/>
<circle cx="312.30" cy="457.00" r="10.1" fill="#e6da48" stroke="#6e6a1e" stroke-width="1.2"/><circle cx="312.30" cy="457.00" r="7.8" fill="none" stroke="#f6f0a0" stroke-width="1" opacity="0.5"/><polygon points="318.36,460.50 312.30,464.00 306.24,460.50 306.24,453.50 312.30,450.00 318.36,453.50" fill="#000"/><circle cx="312.30" cy="457.00" r="4.1" fill="#fff"/>
<circle cx="482.60" cy="457.10" r="10.1" fill="#e6da48" stroke="#6e6a1e" stroke-width="1.2"/><circle cx="482.60" cy="457.10" r="7.8" fill="none" stroke="#f6f0a0" stroke-width="1" opacity="0.5"/><polygon points="488.66,460.60 482.60,464.10 476.54,460.60 476.54,453.60 482.60,450.10 488.66,453.60" fill="#000"/><circle cx="482.60" cy="457.10" r="4.1" fill="#fff"/>
<circle cx="271.80" cy="546.20" r="10.1" fill="#e6da48" stroke="#6e6a1e" stroke-width="1.2"/><circle cx="271.80" cy="546.20" r="7.8" fill="none" stroke="#f6f0a0" stroke-width="1" opacity="0.5"/><polygon points="277.86,549.70 271.80,553.20 265.74,549.70 265.74,542.70 271.80,539.20 277.86,542.70" fill="#000"/><circle cx="271.80" cy="546.20" r="4.1" fill="#fff"/>
<circle cx="528.60" cy="545.90" r="10.1" fill="#e6da48" stroke="#6e6a1e" stroke-width="1.2"/><circle cx="528.60" cy="545.90" r="7.8" fill="none" stroke="#f6f0a0" stroke-width="1" opacity="0.5"/><polygon points="534.66,549.40 528.60,552.90 522.54,549.40 522.54,542.40 528.60,538.90 534.66,542.40" fill="#000"/><circle cx="528.60" cy="545.90" r="4.1" fill="#fff"/>
<rect x="367.50" y="446.20" width="15.10" height="8.80" fill="url(#ph)" stroke="#3a2350" stroke-width="1"/><rect x="365.00" y="442.30" width="20.10" height="4.40" rx="1.2" fill="url(#ph)" stroke="#3a2350" stroke-width="1"/><rect x="365.00" y="454.50" width="20.10" height="4.40" rx="1.2" fill="url(#ph)" stroke="#3a2350" stroke-width="1"/>
<rect x="417.90" y="446.20" width="15.50" height="8.80" fill="url(#ph)" stroke="#3a2350" stroke-width="1"/><rect x="415.40" y="442.30" width="20.50" height="4.40" rx="1.2" fill="url(#ph)" stroke="#3a2350" stroke-width="1"/><rect x="415.40" y="454.50" width="20.50" height="4.40" rx="1.2" fill="url(#ph)" stroke="#3a2350" stroke-width="1"/>
<path d="M562.40,521.90 C560.79,524.67 555.67,532.82 552.75,538.50 C549.83,544.18 546.88,550.17 544.90,556.00 C542.92,561.83 541.29,568.54 540.85,573.50 C540.41,578.46 540.85,581.67 542.25,585.75 C543.65,589.83 546.33,594.50 549.25,598.00 C552.17,601.50 556.25,604.42 559.75,606.75 C563.25,609.08 568.06,610.25 570.25,612.00 C572.44,613.75 572.38,614.18 572.90,617.25 C573.42,620.32 573.32,628.21 573.40,630.40 L580.75,630.40 C580.69,627.67 580.69,617.30 580.40,614.00 C580.11,610.70 581.13,612.53 579.00,610.60 C576.87,608.67 571.10,605.67 567.60,602.40 C564.10,599.13 560.33,595.23 558.00,591.00 C555.67,586.77 554.18,582.00 553.60,577.00 C553.02,572.00 553.33,566.25 554.50,561.00 C555.67,555.75 557.39,551.58 560.60,545.50 C563.81,539.42 571.56,528.00 573.75,524.50 Z" fill="url(#trail)" stroke="#3f3f3f" stroke-width="1"/>
<g transform="translate(573.2,512.6) rotate(14)"><rect x="-17.5" y="-4.5" width="6" height="9" rx="1" fill="#e8e8e8" stroke="#999" stroke-width="0.7"/><rect x="11.5" y="-4.5" width="6" height="9" rx="1" fill="#e8e8e8" stroke="#999" stroke-width="0.7"/><rect x="-5" y="-9.6" width="10.6" height="19.2" fill="url(#pv)" stroke="#3a2350" stroke-width="1.1"/><rect x="-12.6" y="-10.7" width="7.8" height="21.4" rx="0.8" fill="url(#pv)" stroke="#3a2350" stroke-width="1.1"/><rect x="5.4" y="-11" width="7.3" height="22" rx="0.8" fill="url(#pv)" stroke="#3a2350" stroke-width="1.1"/></g>
<rect x="336.6" y="588.6" width="9.2" height="21.6" rx="1" fill="url(#pv)" stroke="#2e1a40" stroke-width="1.1"/>
<rect x="345.3" y="586" width="5" height="27" rx="0.6" fill="url(#pv)" stroke="#2e1a40" stroke-width="1.1"/>
<path d="M261,684 C264,700 272,711.8 292,711.8 L500,711.8 C502.43,711.43 510.28,710.93 514.60,709.60 C518.92,708.27 522.90,706.13 525.90,703.80 C528.90,701.47 530.73,698.87 532.60,695.60 C534.47,692.33 535.78,688.01 537.10,684.20 C538.42,680.39 539.47,676.91 540.50,672.75 C541.53,668.59 542.45,663.19 543.30,659.25 C544.15,655.31 545.13,652.14 545.60,649.10 C546.07,646.06 546.02,642.35 546.10,641.00" fill="none" stroke="#8e8e8e" stroke-width="6.3"/>
<rect x="214.8" y="655.3" width="16" height="23.2" fill="#fff" stroke="#8a8a8a" stroke-width="2.2"/><rect x="213.6" y="654.2" width="18.4" height="25.4" fill="none" stroke="#555" stroke-width="0.7"/>
<path d="M247,640 L253,640 L255,652 L247,652 Z" fill="#909090" stroke="#555" stroke-width="0.8"/>
<path d="M231.50,653.50 C232.92,652.47 236.83,648.47 240.00,647.30 C243.17,646.13 247.50,646.38 250.50,646.50 C253.50,646.62 254.25,646.75 258.00,648.00 C261.75,649.25 267.00,651.75 273.00,654.00 C279.00,656.25 282.25,660.12 294.00,661.50 C305.75,662.88 335.25,662.17 343.50,662.30 L343.50,676.50 C335.25,676.38 305.75,674.80 294.00,675.80 C282.25,676.80 279.00,680.38 273.00,682.50 C267.00,684.62 261.75,687.25 258.00,688.50 C254.25,689.75 253.50,690.25 250.50,690.00 C247.50,689.75 243.17,688.75 240.00,687.00 C236.83,685.25 232.92,680.75 231.50,679.50 Z" fill="url(#arm17)" stroke="#444" stroke-width="1"/>
<circle cx="249" cy="668.3" r="4.6" fill="#fff" stroke="#555" stroke-width="0.8"/>
<rect x="330.3" y="655.6" width="14.2" height="6.8" rx="1.5" fill="url(#mh)" stroke="#1a1a1a" stroke-width="1"/>
<rect x="330.3" y="674.3" width="14.2" height="6.8" rx="1.5" fill="url(#mh)" stroke="#1a1a1a" stroke-width="1"/>
<rect x="210.60" y="657.80" width="16.30" height="5.70" rx="2" fill="url(#mh)" stroke="#111" stroke-width="1.1"/><rect x="210.60" y="671.30" width="16.30" height="5.70" rx="2" fill="url(#mh)" stroke="#111" stroke-width="1.1"/><rect x="209.30" y="662.50" width="18.90" height="9.79" rx="2.5" fill="url(#mh)" stroke="#111" stroke-width="1.1"/>
<rect x="233.5" y="632.6" width="16" height="5" fill="url(#gv)" stroke="#333" stroke-width="0.9"/>
<rect x="248.2" y="631.6" width="8.2" height="9.4" rx="1.2" fill="url(#gv2)" stroke="#222" stroke-width="1"/>
<circle cx="230.4" cy="635.3" r="4.3" fill="#dccfeb" stroke="#4a2f6a" stroke-width="1"/>
<circle cx="230.4" cy="635.3" r="1.5" fill="#fff" stroke="#7a5a9a" stroke-width="0.7"/>
<rect x="421" y="669" width="120" height="8" fill="url(#gv)" stroke="#555" stroke-width="0.8"/>
<rect x="406.70" y="661.20" width="14.30" height="6.68" rx="2" fill="url(#mh)" stroke="#111" stroke-width="1.1"/><rect x="406.70" y="677.72" width="14.30" height="6.68" rx="2" fill="url(#mh)" stroke="#111" stroke-width="1.1"/><rect x="405.40" y="666.88" width="16.90" height="11.83" rx="2.5" fill="url(#mh)" stroke="#111" stroke-width="1.1"/>
<rect x="542" y="662" width="20" height="22.2" fill="#fff" stroke="#8f8f8f" stroke-width="3"/><rect x="540.3" y="660.4" width="22.8" height="25.2" fill="none" stroke="#555" stroke-width="0.7"/>
<rect x="545.20" y="663.20" width="17.00" height="5.88" rx="2" fill="url(#mh)" stroke="#111" stroke-width="1.1"/><rect x="545.20" y="677.22" width="17.00" height="5.88" rx="2" fill="url(#mh)" stroke="#111" stroke-width="1.1"/><rect x="543.90" y="668.08" width="19.60" height="10.15" rx="2.5" fill="url(#mh)" stroke="#111" stroke-width="1.1"/>
<rect x="549.5" y="633.4" width="15.5" height="5" fill="url(#gv)" stroke="#333" stroke-width="0.9"/>
<rect x="541.9" y="631.9" width="8.5" height="9" rx="1.2" fill="url(#gv2)" stroke="#222" stroke-width="1"/>
<circle cx="567.9" cy="636" r="4.4" fill="#dccfeb" stroke="#4a2f6a" stroke-width="1"/>
<circle cx="567.9" cy="636" r="1.5" fill="#fff" stroke="#7a5a9a" stroke-width="0.7"/>
<rect x="347.80" y="703.90" width="17.30" height="16.10" fill="url(#pv)" stroke="#3a2350" stroke-width="0.9"/><rect x="350.60" y="701.20" width="11.70" height="21.50" rx="1.8" fill="url(#pv)" stroke="#3a2350" stroke-width="1"/><rect x="344.20" y="698.30" width="3.60" height="27.30" rx="1.5" fill="url(#pv)" stroke="#3a2350" stroke-width="1.1"/><rect x="365.10" y="698.30" width="3.60" height="27.30" rx="1.5" fill="url(#pv)" stroke="#3a2350" stroke-width="1.1"/>
<rect x="441.60" y="703.90" width="16.90" height="16.10" fill="url(#pv)" stroke="#3a2350" stroke-width="0.9"/><rect x="444.40" y="701.20" width="11.30" height="21.50" rx="1.8" fill="url(#pv)" stroke="#3a2350" stroke-width="1"/><rect x="438.00" y="698.30" width="3.60" height="27.30" rx="1.5" fill="url(#pv)" stroke="#3a2350" stroke-width="1.1"/><rect x="458.50" y="698.30" width="3.60" height="27.30" rx="1.5" fill="url(#pv)" stroke="#3a2350" stroke-width="1.1"/>
<line x1="387.47" y1="113.39" x2="342.55" y2="132.82" stroke="#000" stroke-width="1.70"/><path d="M337.50,135.00 L342.35,129.85 L344.58,134.99 Z" fill="#000"/><line x1="412.55" y1="113.99" x2="452.22" y2="130.49" stroke="#000" stroke-width="1.70"/><path d="M457.30,132.60 L450.22,132.69 L452.37,127.52 Z" fill="#000"/><circle cx="400.50" cy="111.50" r="14.10" fill="#fff" stroke="#000" stroke-width="1.8"/><g transform="translate(401.70,111.50) skewX(-11)"><text x="0" y="5.9" text-anchor="middle" textLength="10.10" lengthAdjust="spacingAndGlyphs" font-family="Liberation Serif" font-weight="bold" font-size="17.5" fill="#000" stroke="#000" stroke-width="0.7">2</text></g>
<line x1="352.50" y1="215.00" x2="343.00" y2="215.00" stroke="#000" stroke-width="1.70"/><path d="M337.50,215.00 L344.00,212.20 L344.00,217.80 Z" fill="#000"/><circle cx="363.75" cy="215.00" r="14.10" fill="#fff" stroke="#000" stroke-width="1.8"/><g transform="translate(359.25,215.00) skewX(-11)"><text x="0" y="5.9" text-anchor="middle" textLength="10.10" lengthAdjust="spacingAndGlyphs" font-family="Liberation Serif" font-weight="bold" font-size="17.5" fill="#000" stroke="#000" stroke-width="0.7">5</text></g><g transform="translate(370.65,215.00) skewX(-11)"><text x="0" y="5.9" text-anchor="middle" textLength="10.10" lengthAdjust="spacingAndGlyphs" font-family="Liberation Serif" font-weight="bold" font-size="17.5" fill="#000" stroke="#000" stroke-width="0.7">0</text></g>
<line x1="387.70" y1="261.42" x2="297.77" y2="288.42" stroke="#000" stroke-width="1.70"/><path d="M292.50,290.00 L297.92,285.45 L299.53,290.81 Z" fill="#000"/><line x1="412.70" y1="261.42" x2="502.73" y2="288.42" stroke="#000" stroke-width="1.70"/><path d="M508.00,290.00 L500.97,290.81 L502.58,285.45 Z" fill="#000"/><circle cx="400.20" cy="261.00" r="14.10" fill="#fff" stroke="#000" stroke-width="1.8"/><path transform="translate(398.45,267.10)" d="M0,0 L4.4,0 L6.1,-12 L3.7,-12 L0.1,-9.5 L0.2,-8.2 L2.6,-8.6 Z" fill="#000" stroke="#000" stroke-width="0.5" stroke-linejoin="round"/>
<line x1="436.00" y1="312.03" x2="419.20" y2="311.93" stroke="#000" stroke-width="1.70"/><path d="M413.70,311.90 L420.22,309.14 L420.18,314.74 Z" fill="#000"/><circle cx="448.20" cy="312.20" r="14.10" fill="#fff" stroke="#000" stroke-width="1.8"/><g transform="translate(446.05,312.20) skewX(-11)"><text x="0" y="5.9" text-anchor="middle" textLength="10.10" lengthAdjust="spacingAndGlyphs" font-family="Liberation Serif" font-weight="bold" font-size="17.5" fill="#000" stroke="#000" stroke-width="0.7">3</text></g><path transform="translate(452.15,318.30)" d="M0,0 L4.4,0 L6.1,-12 L3.7,-12 L0.1,-9.5 L0.2,-8.2 L2.6,-8.6 Z" fill="#000" stroke="#000" stroke-width="0.5" stroke-linejoin="round"/>
<line x1="253.18" y1="366.77" x2="225.82" y2="385.04" stroke="#000" stroke-width="1.70"/><path d="M221.25,388.10 L225.10,382.16 L228.21,386.82 Z" fill="#000"/><circle cx="265.00" cy="360.10" r="14.10" fill="#fff" stroke="#000" stroke-width="1.8"/><g transform="translate(260.50,360.10) skewX(-11)"><text x="0" y="5.9" text-anchor="middle" textLength="10.10" lengthAdjust="spacingAndGlyphs" font-family="Liberation Serif" font-weight="bold" font-size="17.5" fill="#000" stroke="#000" stroke-width="0.7">3</text></g><g transform="translate(271.90,360.10) skewX(-11)"><text x="0" y="5.9" text-anchor="middle" textLength="10.10" lengthAdjust="spacingAndGlyphs" font-family="Liberation Serif" font-weight="bold" font-size="17.5" fill="#000" stroke="#000" stroke-width="0.7">0</text></g>
<line x1="551.56" y1="366.80" x2="578.92" y2="385.05" stroke="#000" stroke-width="1.70"/><path d="M583.50,388.10 L576.54,386.82 L579.65,382.16 Z" fill="#000"/><circle cx="540.10" cy="360.50" r="14.10" fill="#fff" stroke="#000" stroke-width="1.8"/><g transform="translate(535.60,360.50) skewX(-11)"><text x="0" y="5.9" text-anchor="middle" textLength="10.10" lengthAdjust="spacingAndGlyphs" font-family="Liberation Serif" font-weight="bold" font-size="17.5" fill="#000" stroke="#000" stroke-width="0.7">3</text></g><g transform="translate(547.00,360.50) skewX(-11)"><text x="0" y="5.9" text-anchor="middle" textLength="10.10" lengthAdjust="spacingAndGlyphs" font-family="Liberation Serif" font-weight="bold" font-size="17.5" fill="#000" stroke="#000" stroke-width="0.7">0</text></g>
<line x1="390.46" y1="371.93" x2="328.67" y2="440.90" stroke="#000" stroke-width="1.70"/><path d="M325.00,445.00 L327.25,438.29 L331.42,442.03 Z" fill="#000"/><line x1="409.85" y1="371.87" x2="470.13" y2="440.86" stroke="#000" stroke-width="1.70"/><path d="M473.75,445.00 L467.36,441.95 L471.58,438.26 Z" fill="#000"/><circle cx="400.50" cy="361.25" r="14.10" fill="#fff" stroke="#000" stroke-width="1.8"/><path transform="translate(393.05,367.35)" d="M0,0 L4.4,0 L6.1,-12 L3.7,-12 L0.1,-9.5 L0.2,-8.2 L2.6,-8.6 Z" fill="#000" stroke="#000" stroke-width="0.5" stroke-linejoin="round"/><g transform="translate(405.05,361.25) skewX(-11)"><text x="0" y="5.9" text-anchor="middle" textLength="10.10" lengthAdjust="spacingAndGlyphs" font-family="Liberation Serif" font-weight="bold" font-size="17.5" fill="#000" stroke="#000" stroke-width="0.7">0</text></g>
<line x1="390.56" y1="418.27" x2="379.91" y2="435.33" stroke="#000" stroke-width="1.70"/><path d="M377.00,440.00 L378.06,433.00 L382.82,435.97 Z" fill="#000"/><line x1="409.52" y1="418.19" x2="420.74" y2="435.39" stroke="#000" stroke-width="1.70"/><path d="M423.75,440.00 L417.85,436.09 L422.54,433.03 Z" fill="#000"/><circle cx="400.50" cy="408.75" r="14.10" fill="#fff" stroke="#000" stroke-width="1.8"/><g transform="translate(396.00,408.75) skewX(-11)"><text x="0" y="5.9" text-anchor="middle" textLength="10.10" lengthAdjust="spacingAndGlyphs" font-family="Liberation Serif" font-weight="bold" font-size="17.5" fill="#000" stroke="#000" stroke-width="0.7">2</text></g><g transform="translate(407.40,408.75) skewX(-11)"><text x="0" y="5.9" text-anchor="middle" textLength="10.10" lengthAdjust="spacingAndGlyphs" font-family="Liberation Serif" font-weight="bold" font-size="17.5" fill="#000" stroke="#000" stroke-width="0.7">5</text></g>
<line x1="542.67" y1="470.25" x2="557.05" y2="492.86" stroke="#000" stroke-width="1.70"/><path d="M560.00,497.50 L554.15,493.52 L558.87,490.51 Z" fill="#000"/><circle cx="536.60" cy="457.60" r="14.10" fill="#fff" stroke="#000" stroke-width="1.8"/><g transform="translate(537.80,457.60) skewX(-11)"><text x="0" y="5.9" text-anchor="middle" textLength="10.10" lengthAdjust="spacingAndGlyphs" font-family="Liberation Serif" font-weight="bold" font-size="17.5" fill="#000" stroke="#000" stroke-width="0.7">3</text></g>
<line x1="388.48" y1="551.91" x2="290.89" y2="546.88" stroke="#000" stroke-width="1.70"/><path d="M285.40,546.60 L292.04,544.14 L291.75,549.73 Z" fill="#000"/><line x1="412.40" y1="552.65" x2="510.91" y2="546.73" stroke="#000" stroke-width="1.70"/><path d="M516.40,546.40 L510.08,549.59 L509.74,544.00 Z" fill="#000"/><circle cx="400.20" cy="553.40" r="14.10" fill="#fff" stroke="#000" stroke-width="1.8"/><path transform="translate(395.10,559.50)" d="M0,0 L4.4,0 L6.1,-12 L3.7,-12 L0.1,-9.5 L0.2,-8.2 L2.6,-8.6 Z" fill="#000" stroke="#000" stroke-width="0.5" stroke-linejoin="round"/><path transform="translate(401.80,559.50)" d="M0,0 L4.4,0 L6.1,-12 L3.7,-12 L0.1,-9.5 L0.2,-8.2 L2.6,-8.6 Z" fill="#000" stroke="#000" stroke-width="0.5" stroke-linejoin="round"/>
<line x1="295.88" y1="591.97" x2="325.08" y2="596.89" stroke="#000" stroke-width="1.70"/><path d="M330.50,597.80 L323.63,599.48 L324.56,593.96 Z" fill="#000"/><circle cx="283.70" cy="588.80" r="14.10" fill="#fff" stroke="#000" stroke-width="1.8"/><g transform="translate(279.20,588.80) skewX(-11)"><text x="0" y="5.9" text-anchor="middle" textLength="10.10" lengthAdjust="spacingAndGlyphs" font-family="Liberation Serif" font-weight="bold" font-size="17.5" fill="#000" stroke="#000" stroke-width="0.7">2</text></g><g transform="translate(290.60,588.80) skewX(-11)"><text x="0" y="5.9" text-anchor="middle" textLength="10.10" lengthAdjust="spacingAndGlyphs" font-family="Liberation Serif" font-weight="bold" font-size="17.5" fill="#000" stroke="#000" stroke-width="0.7">6</text></g>
<line x1="224.94" y1="603.61" x2="228.27" y2="622.09" stroke="#000" stroke-width="1.70"/><path d="M229.25,627.50 L225.34,621.60 L230.85,620.61 Z" fill="#000"/><circle cx="223.60" cy="591.00" r="14.10" fill="#fff" stroke="#000" stroke-width="1.8"/><g transform="translate(219.10,591.00) skewX(-11)"><text x="0" y="5.9" text-anchor="middle" textLength="10.10" lengthAdjust="spacingAndGlyphs" font-family="Liberation Serif" font-weight="bold" font-size="17.5" fill="#000" stroke="#000" stroke-width="0.7">4</text></g><g transform="translate(230.50,591.00) skewX(-11)"><text x="0" y="5.9" text-anchor="middle" textLength="10.10" lengthAdjust="spacingAndGlyphs" font-family="Liberation Serif" font-weight="bold" font-size="17.5" fill="#000" stroke="#000" stroke-width="0.7">5</text></g>
<line x1="281.70" y1="631.48" x2="264.47" y2="633.24" stroke="#000" stroke-width="1.70"/><path d="M259.00,633.80 L265.18,630.35 L265.75,635.93 Z" fill="#000"/><circle cx="294.00" cy="630.90" r="14.10" fill="#fff" stroke="#000" stroke-width="1.8"/><g transform="translate(289.50,630.90) skewX(-11)"><text x="0" y="5.9" text-anchor="middle" textLength="10.10" lengthAdjust="spacingAndGlyphs" font-family="Liberation Serif" font-weight="bold" font-size="17.5" fill="#000" stroke="#000" stroke-width="0.7">4</text></g><g transform="translate(300.90,630.90) skewX(-11)"><text x="0" y="5.9" text-anchor="middle" textLength="10.10" lengthAdjust="spacingAndGlyphs" font-family="Liberation Serif" font-weight="bold" font-size="17.5" fill="#000" stroke="#000" stroke-width="0.7">6</text></g>
<line x1="373.09" y1="631.29" x2="349.85" y2="652.13" stroke="#000" stroke-width="1.70"/><path d="M345.75,655.80 L348.72,649.38 L352.46,653.55 Z" fill="#000"/><circle cx="380.00" cy="622.00" r="14.10" fill="#fff" stroke="#000" stroke-width="1.8"/><path transform="translate(372.55,628.10)" d="M0,0 L4.4,0 L6.1,-12 L3.7,-12 L0.1,-9.5 L0.2,-8.2 L2.6,-8.6 Z" fill="#000" stroke="#000" stroke-width="0.5" stroke-linejoin="round"/><g transform="translate(384.55,622.00) skewX(-11)"><text x="0" y="5.9" text-anchor="middle" textLength="10.10" lengthAdjust="spacingAndGlyphs" font-family="Liberation Serif" font-weight="bold" font-size="17.5" fill="#000" stroke="#000" stroke-width="0.7">7</text></g>
<line x1="447.56" y1="630.73" x2="426.12" y2="652.34" stroke="#000" stroke-width="1.70"/><path d="M422.25,656.25 L424.84,649.66 L428.82,653.61 Z" fill="#000"/><circle cx="455.30" cy="622.00" r="14.10" fill="#fff" stroke="#000" stroke-width="1.8"/><path transform="translate(447.85,628.10)" d="M0,0 L4.4,0 L6.1,-12 L3.7,-12 L0.1,-9.5 L0.2,-8.2 L2.6,-8.6 Z" fill="#000" stroke="#000" stroke-width="0.5" stroke-linejoin="round"/><g transform="translate(459.85,622.00) skewX(-11)"><text x="0" y="5.9" text-anchor="middle" textLength="10.10" lengthAdjust="spacingAndGlyphs" font-family="Liberation Serif" font-weight="bold" font-size="17.5" fill="#000" stroke="#000" stroke-width="0.7">9</text></g>
<line x1="221.09" y1="705.30" x2="221.03" y2="692.40" stroke="#000" stroke-width="1.70"/><path d="M221.00,686.90 L223.83,693.39 L218.23,693.41 Z" fill="#000"/><circle cx="221.50" cy="716.90" r="14.10" fill="#fff" stroke="#000" stroke-width="1.8"/><path transform="translate(214.05,723.00)" d="M0,0 L4.4,0 L6.1,-12 L3.7,-12 L0.1,-9.5 L0.2,-8.2 L2.6,-8.6 Z" fill="#000" stroke="#000" stroke-width="0.5" stroke-linejoin="round"/><g transform="translate(226.05,716.90) skewX(-11)"><text x="0" y="5.9" text-anchor="middle" textLength="10.10" lengthAdjust="spacingAndGlyphs" font-family="Liberation Serif" font-weight="bold" font-size="17.5" fill="#000" stroke="#000" stroke-width="0.7">8</text></g>
<line x1="559.00" y1="711.43" x2="556.06" y2="696.40" stroke="#000" stroke-width="1.70"/><path d="M555.00,691.00 L559.00,696.84 L553.50,697.92 Z" fill="#000"/><circle cx="562.00" cy="723.60" r="14.10" fill="#fff" stroke="#000" stroke-width="1.8"/><path transform="translate(554.55,729.70)" d="M0,0 L4.4,0 L6.1,-12 L3.7,-12 L0.1,-9.5 L0.2,-8.2 L2.6,-8.6 Z" fill="#000" stroke="#000" stroke-width="0.5" stroke-linejoin="round"/><g transform="translate(566.55,723.60) skewX(-11)"><text x="0" y="5.9" text-anchor="middle" textLength="10.10" lengthAdjust="spacingAndGlyphs" font-family="Liberation Serif" font-weight="bold" font-size="17.5" fill="#000" stroke="#000" stroke-width="0.7">8</text></g>
<line x1="391.51" y1="758.02" x2="356.90" y2="732.00" stroke="#000" stroke-width="1.70"/><path d="M352.50,728.70 L359.38,730.37 L356.01,734.84 Z" fill="#000"/><line x1="409.08" y1="758.00" x2="443.66" y2="732.65" stroke="#000" stroke-width="1.70"/><path d="M448.10,729.40 L444.51,735.50 L441.20,730.98 Z" fill="#000"/><circle cx="400.20" cy="765.40" r="14.10" fill="#fff" stroke="#000" stroke-width="1.8"/><g transform="translate(401.40,765.40) skewX(-11)"><text x="0" y="5.9" text-anchor="middle" textLength="10.10" lengthAdjust="spacingAndGlyphs" font-family="Liberation Serif" font-weight="bold" font-size="17.5" fill="#000" stroke="#000" stroke-width="0.7">4</text></g>
<rect x="289.9" y="16.4" width="221" height="40.4" rx="7.5" fill="#5d2e88" stroke="#4a2070" stroke-width="1"/><rect x="292.6" y="19" width="215.6" height="35.6" rx="5.5" fill="none" stroke="#f4eef8" stroke-width="1.8"/><g transform="translate(-1.1,1.2)" fill="#2a1440" stroke="#2a1440" stroke-width="1.2" stroke-linejoin="round"><path d="M292.5,53 L297,22.5 L307,22.5 L302.5,53 Z"/><path d="M302.5,23 L304.5,18.5 C308,17.6 311,17.5 314,17.75 C317.5,18.2 320,19.5 321.5,22 C323.3,25 323.8,29 323.2,32 C322.5,36 320,40 316,42.5 C313,44.2 309.5,44.9 306.5,44.9 L303.6,44.6 Z"/><path d="M331,22.3 L341.4,22.3 C345,24 347,28 346.4,33 C345.5,40 343.5,45.5 341.4,48.1 C337,51 332,51.6 328.7,51.4 C325,51 322.5,49.5 322.2,46 C321.8,42 322.5,36 325,31 C327,27 329,24 331,22.3 Z"/></g><text x="348.00" y="51.30" textLength="31.50" lengthAdjust="spacingAndGlyphs" font-family="Liberation Sans" font-weight="bold" font-style="italic" font-size="36" fill="#2a1440" stroke="#2a1440" stroke-width="3.2" stroke-linejoin="round">W</text><text x="384.00" y="51.30" textLength="15.50" lengthAdjust="spacingAndGlyphs" font-family="Liberation Sans" font-weight="bold" font-style="italic" font-size="36" fill="#2a1440" stroke="#2a1440" stroke-width="3.2" stroke-linejoin="round">E</text><text x="404.00" y="51.30" textLength="21.50" lengthAdjust="spacingAndGlyphs" font-family="Liberation Sans" font-weight="bold" font-style="italic" font-size="36" fill="#2a1440" stroke="#2a1440" stroke-width="3.2" stroke-linejoin="round">R</text><text x="430.00" y="51.30" textLength="17.50" lengthAdjust="spacingAndGlyphs" font-family="Liberation Sans" font-weight="bold" font-style="italic" font-size="36" fill="#2a1440" stroke="#2a1440" stroke-width="3.2" stroke-linejoin="round">F</text><text x="452.00" y="51.30" textLength="11.50" lengthAdjust="spacingAndGlyphs" font-family="Liberation Sans" font-weight="bold" font-style="italic" font-size="36" fill="#2a1440" stroke="#2a1440" stroke-width="3.2" stroke-linejoin="round">L</text><text x="468.00" y="51.30" textLength="14.50" lengthAdjust="spacingAndGlyphs" font-family="Liberation Sans" font-weight="bold" font-style="italic" font-size="36" fill="#2a1440" stroke="#2a1440" stroke-width="3.2" stroke-linejoin="round">E</text><text x="487.00" y="51.30" textLength="16.50" lengthAdjust="spacingAndGlyphs" font-family="Liberation Sans" font-weight="bold" font-style="italic" font-size="36" fill="#2a1440" stroke="#2a1440" stroke-width="3.2" stroke-linejoin="round">X</text><g fill="#f3d21a" stroke="#f3d21a" stroke-width="0.6" stroke-linejoin="round"><path d="M292.5,53 L297,22.5 L307,22.5 L302.5,53 Z"/><path d="M302.5,23 L304.5,18.5 C308,17.6 311,17.5 314,17.75 C317.5,18.2 320,19.5 321.5,22 C323.3,25 323.8,29 323.2,32 C322.5,36 320,40 316,42.5 C313,44.2 309.5,44.9 306.5,44.9 L303.6,44.6 Z"/><path d="M331,22.3 L341.4,22.3 C345,24 347,28 346.4,33 C345.5,40 343.5,45.5 341.4,48.1 C337,51 332,51.6 328.7,51.4 C325,51 322.5,49.5 322.2,46 C321.8,42 322.5,36 325,31 C327,27 329,24 331,22.3 Z"/></g><path d="M306.4,24.2 L310.8,23.6 C312.6,25 313.6,27 313.4,29.5 C313,33.5 310.5,37.5 305.2,40.2 Z" fill="#3a1a50"/><path d="M335.4,27.2 C337.5,30 337.8,37 336.5,41 C335.5,44 333,46.5 331.5,47.5 C332,43 332.6,36 333.3,32 C333.8,29.5 334.5,28 335.4,27.2 Z" fill="#3a1a50"/><text x="349.00" y="50.00" textLength="31.50" lengthAdjust="spacingAndGlyphs" font-family="Liberation Sans" font-weight="bold" font-style="italic" font-size="36" fill="#f3d21a" stroke="#f3d21a" stroke-width="3" stroke-linejoin="round">W</text><text x="385.00" y="50.00" textLength="15.50" lengthAdjust="spacingAndGlyphs" font-family="Liberation Sans" font-weight="bold" font-style="italic" font-size="36" fill="#f3d21a" stroke="#f3d21a" stroke-width="3" stroke-linejoin="round">E</text><text x="405.00" y="50.00" textLength="21.50" lengthAdjust="spacingAndGlyphs" font-family="Liberation Sans" font-weight="bold" font-style="italic" font-size="36" fill="#f3d21a" stroke="#f3d21a" stroke-width="3" stroke-linejoin="round">R</text><text x="431.00" y="50.00" textLength="17.50" lengthAdjust="spacingAndGlyphs" font-family="Liberation Sans" font-weight="bold" font-style="italic" font-size="36" fill="#f3d21a" stroke="#f3d21a" stroke-width="3" stroke-linejoin="round">F</text><text x="453.00" y="50.00" textLength="11.50" lengthAdjust="spacingAndGlyphs" font-family="Liberation Sans" font-weight="bold" font-style="italic" font-size="36" fill="#f3d21a" stroke="#f3d21a" stroke-width="3" stroke-linejoin="round">L</text><text x="469.00" y="50.00" textLength="14.50" lengthAdjust="spacingAndGlyphs" font-family="Liberation Sans" font-weight="bold" font-style="italic" font-size="36" fill="#f3d21a" stroke="#f3d21a" stroke-width="3" stroke-linejoin="round">E</text><text x="488.00" y="50.00" textLength="16.50" lengthAdjust="spacingAndGlyphs" font-family="Liberation Sans" font-weight="bold" font-style="italic" font-size="36" fill="#f3d21a" stroke="#f3d21a" stroke-width="3" stroke-linejoin="round">X</text><circle cx="504" cy="39" r="1.8" fill="none" stroke="#c0a0d0" stroke-width="0.7"/>
<text x="301" y="77" textLength="199.5" lengthAdjust="spacingAndGlyphs" font-family="Liberation Sans" font-weight="bold" font-style="italic" font-size="16.3" fill="#000" stroke="#000" stroke-width="0.7">E46 3 SERIES COMPACT</text>
<text x="241.5" y="770.6" textLength="64" lengthAdjust="spacingAndGlyphs" font-family="Liberation Sans" font-size="18.4" fill="#000">UPPER</text>
<text x="503.3" y="770.6" textLength="68.5" lengthAdjust="spacingAndGlyphs" font-family="Liberation Sans" font-size="18.4" fill="#000">LOWER</text></svg></body></html>
